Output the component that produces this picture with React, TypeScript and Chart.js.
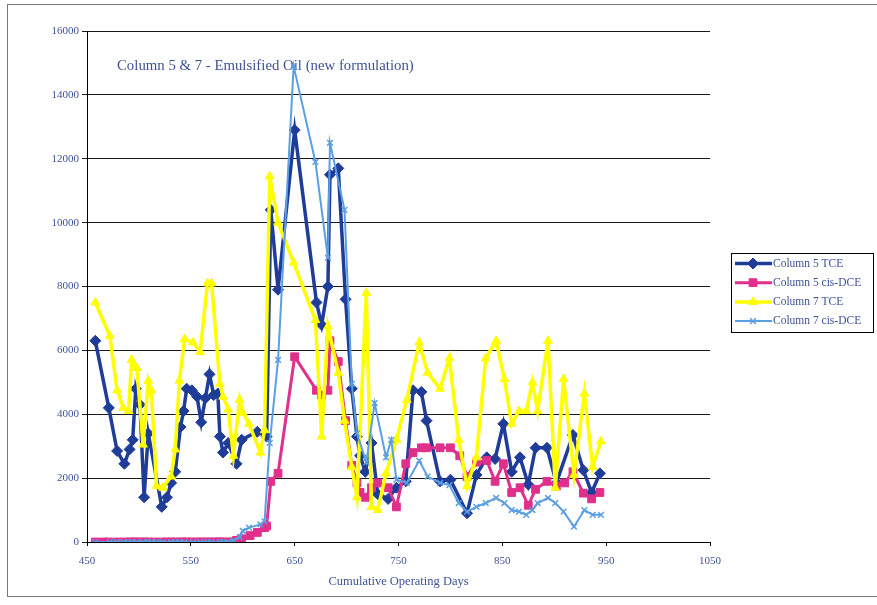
import React, { useEffect, useRef } from "react";
import { Chart, registerables } from "chart.js";
import { drawPoint } from "chart.js/helpers";

Chart.register(...registerables);

const TITLE = "Column 5 & 7 - Emulsified Oil (new formulation)";
const X_TITLE = "Cumulative Operating Days";
const SERIES_LABELS = ["Column 5 TCE", "Column 5 cis-DCE", "Column 7 TCE", "Column 7 cis-DCE"];
const X_TICKS = [450, 550, 650, 750, 850, 950, 1050];
const Y_TICKS = [0, 2000, 4000, 6000, 8000, 10000, 12000, 14000, 16000];

// Column 5 sampling days
const days5 = [
  458, 466, 471, 479, 486, 491, 494, 497, 501, 505,
  509, 515, 522, 527, 531, 535, 540, 543, 546, 551,
  556, 560, 564, 568, 572, 576, 578, 581, 586, 590,
  594, 599, 607, 614, 621, 623, 627, 634, 650, 671,
  676, 682, 684, 692, 699, 705, 710, 713, 718, 724,
  730, 740, 748, 757, 764, 772, 777, 790, 800, 809,
  816, 825, 835, 843, 851, 859, 867, 875, 882, 893,
  902, 910, 918, 928, 936, 944,
];
const tce5 = [
  6300, null, 4200, 2850, 2450, 2900, 3200, 4800, 4300, 1400,
  3400, null, 1100, 1400, 1850, 2200, 3600, 4100, 4800, 4750,
  4550, 3750, 4500, 5250, 4600, 4650, 3300, 2800, 3100, null,
  2450, 3200, null, 3450, null, 3300, 10400, 7900, 12900, 7500,
  6800, 8000, 11500, 11700, 7600, 4800, 3300, 2700, 2200, 3100,
  1500, 1350, 1700, 1900, 4750, 4700, 3800, 1900, 1950, null,
  900, 2100, 2650, 2600, 3700, 2200, 2650, 1800, 2950, 2950,
  1850, null, 3350, 2250, 1550, 2150,
];
const dce5 = [
  0, 0, 0, 0, 0, 0, 0, 0, 0, 0,
  0, 0, 0, 0, 0, 0, 0, 0, 0, 0,
  0, 0, 0, 0, 0, 0, 0, 0, 0, 0,
  50, 100, 200, 300, 450, 500, 1900, 2150, 5800, 4750,
  4600, 4750, 6300, 5650, 3800, 2400, 1850, 1550, 1400, 1700,
  1850, 1700, 1100, 2450, 2800, 2950, 2950, 2950, 2950, 2700,
  2050, 2500, 2550, 1900, 2450, 1550, 1700, 1150, 1650, 1900,
  1750, 1850, 2200, 1530, 1350, 1550,
];

// Column 7 sampling days
const days7 = [
  458, 472, 479, 485, 490, 493, 498, 504, 509, 512,
  517, 523, 531, 535, 539, 544, 552, 559, 566, 570,
  578, 581, 586, 591, 597, 600, 606, 617, 621, 626,
  634, 649, 670, 676, 682, 684, 692, 698, 705, 710,
  719, 724, 727, 730, 738, 743, 748, 758, 770, 778,
  790, 799, 808, 816, 825, 834, 844, 852, 859, 866,
  873, 879, 884, 894, 901, 909, 919, 929, 937, 945,
];
const tce7 = [
  7500, 6450, 4750, 4200, 4100, 5700, 5450, 3050, 5050, 4750,
  1750, 1700, 2050, 2900, 5050, 6350, 6250, 5950, 8100, 8100,
  4950, 4550, 4150, 2700, 4450, 4050, 3700, 2800, 3500, 11450,
  10000, 8750, 6950, 3300, 6750, null, 5300, 3800, 2350, 1400,
  7800, 1100, null, 1000, 2150, null, 3200, 4450, 6250, 5300,
  4800, 5750, 3200, 1750, 2650, 5750, 6300, 5100, 3700, 4100,
  4100, 5000, 4100, 6300, 1700, 5100, 2100, 4650, 2350, 3150,
];
const dce7 = [
  0, 0, 0, 0, 0, 0, 0, 0, 0, 0,
  0, 0, 0, 0, 0, 0, 0, 0, 0, 0,
  0, 0, 0, 50, 150, 350, 450, 550, 650, 3100,
  5700, 14900, 11900, null, 8900, 12500, null, 10400, 4950, 3400,
  2500, null, 4350, null, 2650, 3200, 1950, 1850, 2550, 2050,
  1850, 1780, 1220, 950, 1100, 1220, 1380, 1220, 1000, 950,
  850, 1000, 1220, 1380, 1220, 950, 480, 1000, 850, 850,
];

const FONT = "'Liberation Serif', 'Times New Roman', serif";
const TEXT = "#3e5294";
const COLORS = ["#1f3c99", "#e0308c", "#ffff00", "#5b9fe2"];

const pts = (xs: number[], ys: (number | null)[]) => xs.map((x, i) => ({ x, y: ys[i] }));

const framePlugin = {
  id: "frame",
  beforeDraw(chart: any) {
    const ctx = chart.ctx;
    ctx.save();
    ctx.fillStyle = "#fff";
    ctx.fillRect(0, 0, chart.width, chart.height);
    ctx.strokeStyle = "#777";
    ctx.lineWidth = 1;
    ctx.strokeRect(7.5, 4.5, 880, 592);
    ctx.restore();
  },
};

const titlePlugin = {
  id: "insideTitle",
  beforeDatasetsDraw(chart: any) {
    const ctx = chart.ctx;
    ctx.save();
    ctx.fillStyle = TEXT;
    ctx.font = `14.8px ${FONT}`;
    ctx.textBaseline = "middle";
    ctx.textAlign = "left";
    ctx.fillText(TITLE, 117, 66);
    ctx.restore();
  },
};

const legendPlugin = {
  id: "boxLegend",
  afterDraw(chart: any) {
    const ctx = chart.ctx;
    ctx.save();
    ctx.strokeStyle = "#000";
    ctx.lineWidth = 1;
    ctx.strokeRect(731.5, 253.5, 142, 79);
    chart.data.datasets.forEach((ds: any, i: number) => {
      const cy = 263.5 + i * 19.2;
      ctx.strokeStyle = ds.borderColor;
      ctx.lineWidth = ds.borderWidth;
      ctx.beginPath();
      ctx.moveTo(735, cy);
      ctx.lineTo(772, cy);
      ctx.stroke();
      ctx.fillStyle = ds.pointBackgroundColor;
      ctx.strokeStyle = ds.pointBorderColor;
      ctx.lineWidth = ds.pointBorderWidth;
      drawPoint(ctx, { pointStyle: ds.pointStyle, radius: ds.pointRadius, borderWidth: ds.pointBorderWidth, rotation: 0 }, 753, cy);
      ctx.fillStyle = TEXT;
      ctx.font = `11.5px ${FONT}`;
      ctx.textBaseline = "middle";
      ctx.textAlign = "left";
      ctx.fillText(ds.label, 773, cy);
    });
    ctx.restore();
  },
};

export default function App() {
  const ref = useRef<HTMLCanvasElement | null>(null);

  useEffect(() => {
    if (!ref.current) return;
    const common = { tension: 0, spanGaps: true, pointHoverRadius: 5 };
    const chart = new Chart(ref.current, {
      type: "line",
      data: {
        datasets: [
          {
            ...common,
            label: SERIES_LABELS[0],
            data: pts(days5, tce5),
            borderColor: COLORS[0],
            backgroundColor: COLORS[0],
            pointBackgroundColor: COLORS[0],
            pointBorderColor: COLORS[0],
            borderWidth: 3.5,
            pointStyle: "rectRot",
            pointRadius: 5.5,
            pointBorderWidth: 1,
            order: 4,
          },
          {
            ...common,
            label: SERIES_LABELS[1],
            data: pts(days5, dce5),
            borderColor: COLORS[1],
            backgroundColor: COLORS[1],
            pointBackgroundColor: COLORS[1],
            pointBorderColor: COLORS[1],
            borderWidth: 3,
            pointStyle: "rect",
            pointRadius: 5.5,
            pointBorderWidth: 1,
            order: 3,
          },
          {
            ...common,
            label: SERIES_LABELS[2],
            data: pts(days7, tce7),
            borderColor: COLORS[2],
            backgroundColor: COLORS[2],
            pointBackgroundColor: COLORS[2],
            pointBorderColor: COLORS[2],
            borderWidth: 3.5,
            pointStyle: "triangle",
            pointRadius: 5,
            pointBorderWidth: 1,
            order: 2,
          },
          {
            ...common,
            label: SERIES_LABELS[3],
            data: pts(days7, dce7),
            borderColor: COLORS[3],
            backgroundColor: COLORS[3],
            pointBackgroundColor: COLORS[3],
            pointBorderColor: COLORS[3],
            borderWidth: 2,
            pointStyle: "crossRot",
            pointRadius: 4,
            pointBorderWidth: 1.5,
            order: 1,
          },
        ],
      },
      options: {
        responsive: false,
        animation: false,
        events: [],
        layout: { padding: { left: 0, top: 31, right: 167, bottom: 12 } },
        plugins: {
          legend: { display: false },
          tooltip: { enabled: false },
          title: { display: false },
        },
        scales: {
          x: {
            type: "linear",
            min: 450,
            max: 1050,
            afterBuildTicks: (s: any) => {
              s.ticks = X_TICKS.map((v) => ({ value: v }));
            },
            afterFit: (s: any) => {
              s.height = 51;
            },
            grid: { drawOnChartArea: false, drawTicks: true, tickLength: 4, color: "#000" },
            border: { display: true, color: "#000", width: 1 },
            ticks: {
              color: TEXT,
              font: { family: FONT, size: 11 },
              padding: 9,
              maxRotation: 0,
              autoSkip: false,
              callback: (v: any) => String(v),
            },
            title: {
              display: true,
              text: X_TITLE,
              color: TEXT,
              font: { family: FONT, size: 12.5 },
              padding: { top: 4, bottom: 4 },
            },
          },
          y: {
            type: "linear",
            min: 0,
            max: 16000,
            afterBuildTicks: (s: any) => {
              s.ticks = Y_TICKS.map((v) => ({ value: v }));
            },
            afterFit: (s: any) => {
              s.width = 87;
            },
            grid: { color: "#1a1a1a", lineWidth: 1, drawTicks: true, tickLength: 5 },
            border: { display: true, color: "#000", width: 1 },
            ticks: {
              color: TEXT,
              font: { family: FONT, size: 11 },
              padding: 3,
              autoSkip: false,
              callback: (v: any) => String(v),
            },
          },
        },
      },
      plugins: [framePlugin, titlePlugin, legendPlugin],
    } as any);
    return () => chart.destroy();
  }, []);

  return (
    <div style={{ position: "fixed", left: 0, top: 0, width: 877, height: 605, background: "#fff" }}>
      <canvas ref={ref} width={877} height={605} style={{ display: "block", width: 877, height: 605 }} />
    </div>
  );
}
